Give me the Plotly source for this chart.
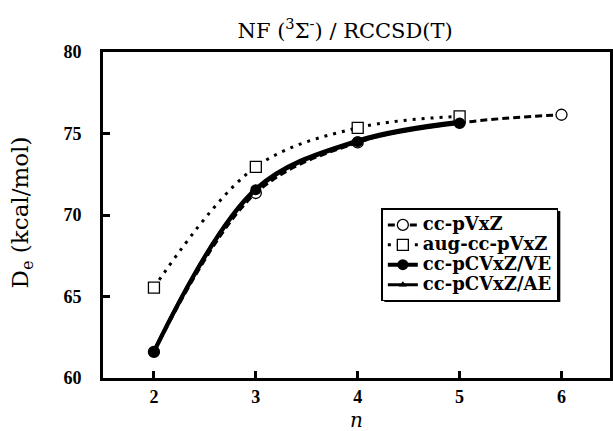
import plotly.graph_objects as go

# Basis-set cardinal numbers and dissociation energies (kcal/mol)
n_vxz = [2, 3, 4, 5, 6]
de_vxz = [61.6, 71.35, 74.45, 75.65, 76.15]

n_avxz = [2, 3, 4, 5]
de_avxz = [65.55, 72.95, 75.35, 76.05]

n_cv = [2, 3, 4, 5]
de_cv_ve = [61.6, 71.55, 74.5, 75.65]
de_cv_ae = [61.7, 71.65, 74.6, 75.75]

labels = ["cc-pVxZ", "aug-cc-pVxZ", "cc-pCVxZ/VE", "cc-pCVxZ/AE"]
x_ticks = [2, 3, 4, 5, 6]
y_ticks = [60, 65, 70, 75, 80]

SERIF = "Liberation Serif, Times New Roman, serif"
WIDE_SERIF = "DejaVu Serif, serif"


def legend_label(text):
    # larger glyphs than the legend's base font keep the rows compact
    return f'<span style="font-size:18px">{text}</span>'


fig = go.Figure()

fig.add_trace(go.Scatter(
    x=n_vxz, y=de_vxz, name=legend_label(labels[0]), mode="lines+markers",
    line=dict(color="black", width=3, dash="7px,4px", shape="spline"),
    marker=dict(symbol="circle", size=11, color="white", line=dict(width=1.3, color="black")),
))
fig.add_trace(go.Scatter(
    x=n_avxz, y=de_avxz, name=legend_label(labels[1]), mode="lines+markers",
    line=dict(color="black", width=3, dash="3px,6px", shape="spline"),
    marker=dict(symbol="square", size=11, color="white", line=dict(width=1.3, color="black")),
))
fig.add_trace(go.Scatter(
    x=n_cv, y=de_cv_ve, name=legend_label(labels[2]), mode="lines+markers",
    line=dict(color="black", width=4, shape="spline"),
    marker=dict(symbol="circle", size=11, color="black"),
))
fig.add_trace(go.Scatter(
    x=n_cv, y=de_cv_ae, name=legend_label(labels[3]), mode="lines+markers",
    line=dict(color="black", width=3, shape="spline"),
    marker=dict(symbol="triangle-up", size=7, color="black"),
))

# Drop shadow behind the legend box
fig.add_shape(type="rect", xref="paper", yref="paper",
              x0=0.555, x1=0.902, y0=0.233, y1=0.512,
              fillcolor="black", line=dict(width=0), layer="above")

fig.add_annotation(text="<i>n</i>", xref="paper", yref="paper",
                   x=0.5, y=-0.128, xanchor="center", yanchor="middle",
                   showarrow=False, font=dict(family=WIDE_SERIF, size=20, color="black"))
fig.add_annotation(text="D<sub>e</sub> (kcal/mol)", xref="paper", yref="paper",
                   x=-0.159, y=0.509, xanchor="center", yanchor="middle", textangle=-90,
                   showarrow=False, font=dict(family=WIDE_SERIF, size=23, color="black"))

fig.update_layout(
    width=613, height=431,
    margin=dict(l=103, r=0, t=52, b=53),
    plot_bgcolor="white", paper_bgcolor="white",
    font=dict(family=SERIF, color="black"),
    title=dict(
        text="NF (<sup>3</sup>Σ<sup>-</sup>) / RCCSD(T)",
        x=0.563, xref="container", xanchor="center",
        y=0.93, yref="container", yanchor="middle",
        font=dict(family=WIDE_SERIF, size=21, color="black"),
    ),
    showlegend=True,
    legend=dict(
        x=0.549, y=0.52, xanchor="left", yanchor="top",
        bgcolor="white", bordercolor="black", borderwidth=1.5,
        font=dict(family=WIDE_SERIF, size=13, color="black", weight="bold"),
        tracegroupgap=0,
    ),
    xaxis=dict(
        range=[1.5, 6.476], tickvals=x_ticks, ticktext=[str(v) for v in x_ticks],
        ticks="inside", ticklen=7, tickwidth=2.5, tickcolor="black",
        ticklabelstandoff=0,
        showline=True, linewidth=3, linecolor="black", mirror=True,
        showgrid=False, zeroline=False,
        tickfont=dict(family=SERIF, size=18, color="black", weight="bold"),
    ),
    yaxis=dict(
        range=[60, 80], tickvals=y_ticks, ticktext=[str(v) for v in y_ticks],
        ticks="inside", ticklen=7, tickwidth=2.5, tickcolor="black",
        ticklabelstandoff=15,
        showline=True, linewidth=3, linecolor="black", mirror=True,
        showgrid=False, zeroline=False,
        tickfont=dict(family=SERIF, size=18, color="black", weight="bold"),
    ),
)

fig.write_html("out.html")
